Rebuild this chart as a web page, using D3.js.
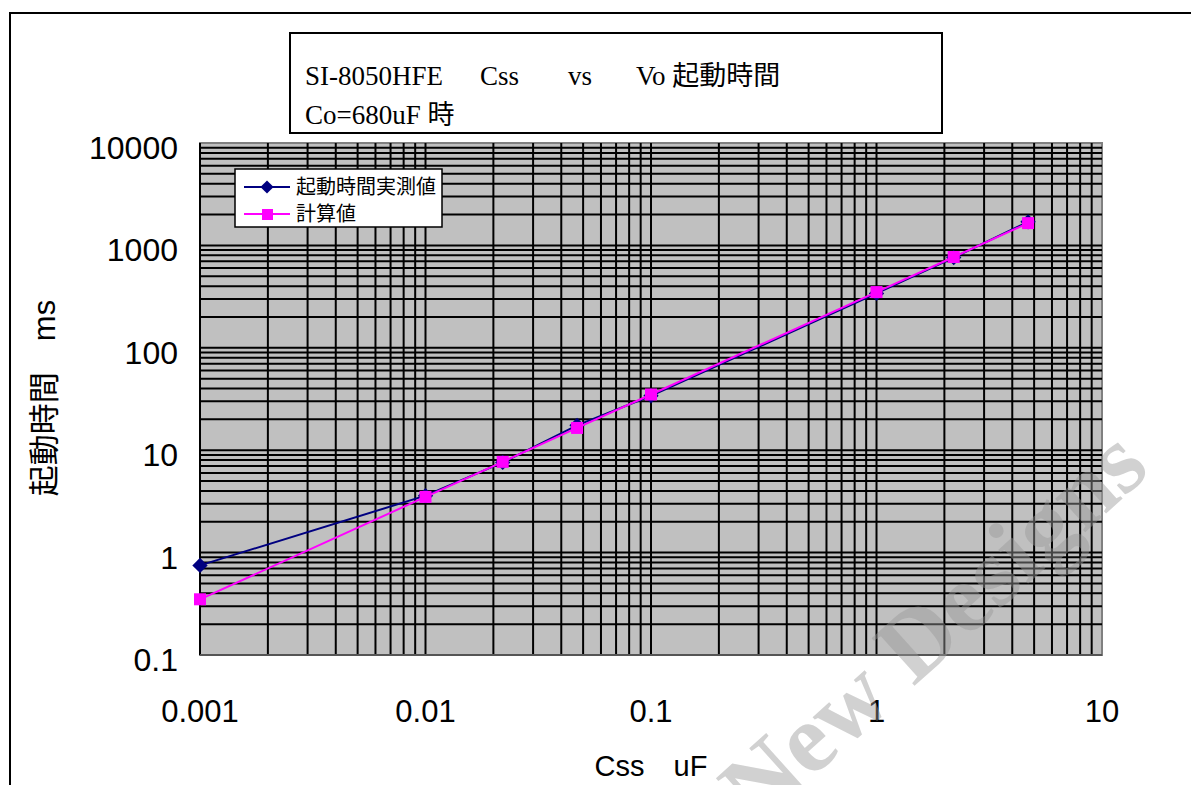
<!DOCTYPE html>
<html lang="ja">
<head>
<meta charset="UTF-8">
<title>SI-8050HFE Css vs Vo</title>
<script src="https://d3js.org/d3.v7.min.js"></script>
<style>
    body { margin: 0; background: #fff; }
    svg { display: block; }
</style>
</head>
<body>
<script>
    // data
    const cssValues = [0.001, 0.01, 0.022, 0.047, 0.1, 1, 2.2, 4.7];          // uF
    const measuredMs = [0.75, 3.6, 7.6, 17.5, 34, 340, 760, 1700];              // 起動時間実測値
    const calculatedMs = [0.35, 3.5, 7.7, 16.5, 35, 350, 770, 1650];           // 計算値
    const xTicks = [0.001, 0.01, 0.1, 1, 10];
    const yTicks = [0.1, 1, 10, 100, 1000, 10000];
    const seriesNames = ["起動時間実測値", "計算値"];

    const W = 1191, H = 785;
    const sans = "'Liberation Sans', Arial, 'Noto Sans CJK JP', sans-serif";
    const serif = "'Liberation Serif', 'Times New Roman', 'Noto Sans CJK JP', serif";

    const svg = d3.select("body").append("svg")
        .attr("width", W).attr("height", H);

    // outer frame (runs off the right and bottom)
    svg.append("rect")
        .attr("x", 10).attr("y", 13).attr("width", 1200).attr("height", 800)
        .attr("fill", "none").attr("stroke", "#000").attr("stroke-width", 2);

    const x = d3.scaleLog().domain([0.001, 10]).range([200, 1102]);
    const y = d3.scaleLog().domain([0.1, 10000]).range([655, 143]);

    // plot area
    svg.append("rect")
        .attr("x", x.range()[0]).attr("y", y.range()[1])
        .attr("width", x.range()[1] - x.range()[0])
        .attr("height", y.range()[0] - y.range()[1])
        .attr("fill", "#c0c0c0").attr("stroke", "#808080").attr("stroke-width", 2);

    // grid values 1..9 x 10^n
    function logGrid(lo, hi) {
        let out = [];
        for (let e = Math.round(Math.log10(lo)); e < Math.round(Math.log10(hi)); e++) {
            for (let k = 1; k <= 9; k++) out.push(k * Math.pow(10, e));
        }
        out.push(hi);
        return out;
    }

    const grid = svg.append("g").attr("stroke", "#000").attr("stroke-width", 2);
    grid.selectAll(".vx").data(logGrid(0.001, 10).slice(1, -1)).enter().append("line")
        .attr("x1", d => x(d)).attr("x2", d => x(d))
        .attr("y1", y.range()[1]).attr("y2", y.range()[0]);
    grid.selectAll(".hy").data(logGrid(0.1, 10000).slice(1, -1)).enter().append("line")
        .attr("x1", x.range()[0]).attr("x2", x.range()[1])
        .attr("y1", d => y(d)).attr("y2", d => y(d));

    // axes lines
    svg.append("line")
        .attr("x1", x.range()[0]).attr("x2", x.range()[0])
        .attr("y1", y.range()[1]).attr("y2", y.range()[0])
        .attr("stroke", "#000").attr("stroke-width", 2);
    svg.append("line")
        .attr("x1", x.range()[0]).attr("x2", x.range()[1])
        .attr("y1", y.range()[0]).attr("y2", y.range()[0])
        .attr("stroke", "#555").attr("stroke-width", 2);

    // tick labels
    svg.selectAll(".ylab").data(yTicks).enter().append("text")
        .attr("x", 178).attr("y", d => y(d) + 16)
        .attr("text-anchor", "end")
        .style("font-family", sans).style("font-size", "32px")
        .text(d => d3.format("~g")(d));
    svg.selectAll(".xlab").data(xTicks).enter().append("text")
        .attr("x", d => x(d)).attr("y", 722)
        .attr("text-anchor", "middle")
        .style("font-family", sans).style("font-size", "31px")
        .text(d => d3.format("~g")(d));

    // axis titles
    svg.append("text")
        .attr("x", 651).attr("y", 776).attr("text-anchor", "middle")
        .style("font-family", sans).style("font-size", "29px")
        .text("Css\u3000uF");
    svg.append("text")
        .attr("transform", "translate(55,398) rotate(-90)")
        .attr("text-anchor", "middle")
        .style("font-family", sans).style("font-size", "31px")
        .text("起動時間\u3000ms");

    // series
    const measured = cssValues.map((c, i) => ({c: c, v: measuredMs[i]}));
    const calculated = cssValues.map((c, i) => ({c: c, v: calculatedMs[i]}));
    const line = d3.line().x(d => x(d.c)).y(d => y(d.v));

    svg.append("path").datum(measured)
        .attr("d", line).attr("fill", "none")
        .attr("stroke", "#000080").attr("stroke-width", 2);
    svg.selectAll(".dia").data(measured).enter().append("path")
        .attr("d", d3.symbol().type(d3.symbolDiamond2).size(150))
        .attr("transform", d => `translate(${x(d.c)},${y(d.v)})`)
        .attr("fill", "#000080");

    svg.append("path").datum(calculated)
        .attr("d", line).attr("fill", "none")
        .attr("stroke", "#ff00ff").attr("stroke-width", 2);
    svg.selectAll(".sq").data(calculated).enter().append("rect")
        .attr("x", d => x(d.c) - 6).attr("y", d => y(d.v) - 6)
        .attr("width", 12).attr("height", 12)
        .attr("fill", "#ff00ff");

    // legend
    const leg = svg.append("g").attr("transform", "translate(235,169)");
    leg.append("rect").attr("width", 207).attr("height", 58)
        .attr("fill", "#fff").attr("stroke", "#000").attr("stroke-width", 1.5);
    const legColors = ["#000080", "#ff00ff"];
    seriesNames.forEach((name, i) => {
        const g = leg.append("g").attr("transform", `translate(0,${18 + i * 27})`);
        g.append("line").attr("x1", 9).attr("x2", 55).attr("y1", 0).attr("y2", 0)
            .attr("stroke", legColors[i]).attr("stroke-width", 2);
        if (i === 0) {
            g.append("path").attr("d", d3.symbol().type(d3.symbolDiamond2).size(110))
                .attr("transform", "translate(32,0)").attr("fill", legColors[i]);
        } else {
            g.append("rect").attr("x", 27).attr("y", -5).attr("width", 11).attr("height", 11)
                .attr("fill", legColors[i]);
        }
        g.append("text").attr("x", 61).attr("y", 7)
            .style("font-family", sans).style("font-size", "20px")
            .text(name);
    });

    // title box
    svg.append("rect")
        .attr("x", 290).attr("y", 33).attr("width", 652).attr("height", 100)
        .attr("fill", "#fff").attr("stroke", "#000").attr("stroke-width", 2);
    const t1 = svg.append("text").attr("y", 85)
        .style("font-family", serif).style("font-size", "27px");
    [["SI-8050HFE", 305], ["Css", 480], ["vs", 568], ["Vo 起動時間", 636]].forEach(p => {
        t1.append("tspan").attr("x", p[1]).text(p[0]);
    });
    svg.append("text").attr("x", 305).attr("y", 124)
        .style("font-family", serif).style("font-size", "27px")
        .text("Co=680uF 時");

    // watermark
    svg.append("text")
        .attr("transform", "translate(1152,472) rotate(-42)")
        .attr("text-anchor", "end")
        .style("font-family", serif).style("font-size", "98px").style("font-weight", "bold")
        .attr("fill", "#999").attr("fill-opacity", 0.45)
        .text("Not Recommended for New Designs");
</script>
</body>
</html>
